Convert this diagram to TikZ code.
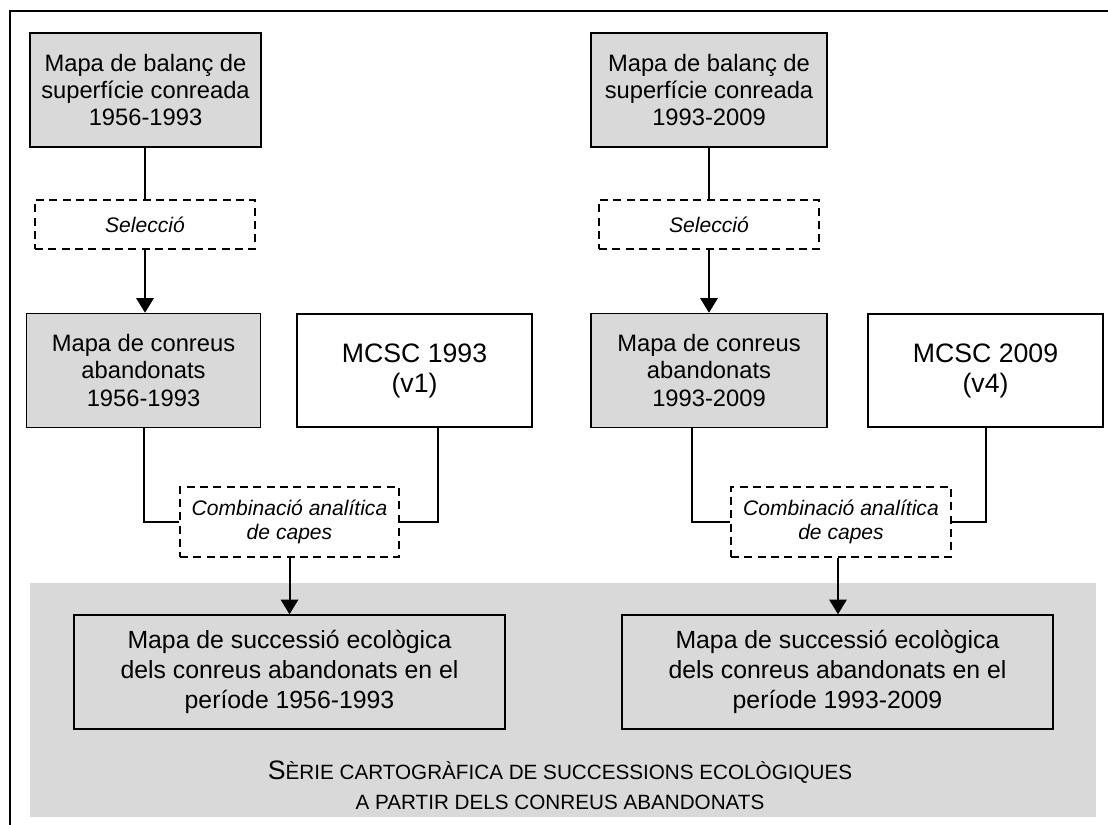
\documentclass[tikz,border=0pt]{standalone}
\usepackage{fontspec}
\setmainfont{Liberation Sans}
\usetikzlibrary{arrows.meta,calc}
\definecolor{boxgray}{RGB}{217,217,217}
\tikzset{
  box/.style={draw, line width=1.1pt, align=center, inner sep=0pt,
    font=\fontsize{17.8}{20.5}\selectfont},
  gbox/.style={box, fill=boxgray},
  bbox/.style={box, font=\fontsize{18.6}{22.5}\selectfont},
  mbox/.style={box, font=\fontsize{20}{22.5}\selectfont},
  dbox/.style={draw, dash pattern=on 6pt off 4pt, line width=1.1pt, align=center,
    inner sep=0pt, fill=white, font=\fontsize{15.8}{18.5}\selectfont\itshape},
  conn/.style={line width=1.5pt},
  arr/.style={conn, -{Triangle[width=13pt,length=11pt]}},
}
\begin{document}
\begin{tikzpicture}[x=0.75pt,y=-0.75pt]
\useasboundingbox (0,0) rectangle (1108,825);
% outer frame (left and top)
\draw[line width=1.5pt] (10,825) -- (10,11) -- (1108,11);
% gray band
\fill[boxgray] (30,583) rectangle (1096,817);

% left column
\node[gbox, minimum width=231*0.75pt, minimum height=114*0.75pt] (balL) at (145.5,90)
  {Mapa de balanç de\\superfície conreada\\1956-1993};
\node[dbox, minimum width=220*0.75pt, minimum height=49*0.75pt] (selL) at (145,224.5) {Selecció};
\node[gbox, minimum width=234*0.75pt, minimum height=114*0.75pt] (conL) at (143.5,370.5)
  {Mapa de conreus\\abandonats\\1956-1993};
\node[mbox, minimum width=235*0.75pt, minimum height=113*0.75pt] (mcL) at (414.5,370.5)
  {MCSC 1993\\(v1)};
\node[dbox, minimum width=219*0.75pt, minimum height=70*0.75pt] (comL) at (289.5,522)
  {Combinació analítica\\de capes};
\node[bbox, fill=boxgray, minimum width=431*0.75pt, minimum height=114*0.75pt] (sucL) at (289.5,672)
  {Mapa de successió ecològica\\dels conreus abandonats en el\\període 1956-1993};

% right column
\node[gbox, minimum width=236*0.75pt, minimum height=114*0.75pt] (balR) at (709,90)
  {Mapa de balanç de\\superfície conreada\\1993-2009};
\node[dbox, minimum width=220*0.75pt, minimum height=49*0.75pt] (selR) at (709,224.5) {Selecció};
\node[gbox, minimum width=236*0.75pt, minimum height=114*0.75pt] (conR) at (709,370.5)
  {Mapa de conreus\\abandonats\\1993-2009};
\node[mbox, minimum width=235*0.75pt, minimum height=113*0.75pt] (mcR) at (985.5,370.5)
  {MCSC 2009\\(v4)};
\node[dbox, minimum width=220*0.75pt, minimum height=70*0.75pt] (comR) at (841,522)
  {Combinació analítica\\de capes};
\node[bbox, fill=boxgray, minimum width=431*0.75pt, minimum height=114*0.75pt] (sucR) at (837.5,672)
  {Mapa de successió ecològica\\dels conreus abandonats en el\\període 1993-2009};

% band title
\node[align=center, inner sep=0pt, font=\fontsize{15.5}{22.5}\selectfont] (serie) at (560,785)
  {{\fontsize{20}{22.5}\selectfont S}ÈRIE CARTOGRÀFICA DE SUCCESSIONS ECOLÒGIQUES\\A PARTIR DELS CONREUS ABANDONATS};

% helper coordinates
\coordinate (mcLout) at ($(mcL.south)+(23.5,0)$);
\coordinate (conRout) at ($(conR.south)+(-17,0)$);
\coordinate (comRout) at ($(comR.south)+(-3,0)$);

% connectors left
\draw[conn] (balL.south -| selL.north) -- (selL.north);
\draw[arr] (selL.south) -- (selL.south |- conL.north);
\draw[conn] (conL.south) |- (comL.west);
\draw[conn] (mcLout) |- (comL.east);
\draw[arr] (comL.south) -- (comL.south |- sucL.north);

% connectors right
\draw[conn] (balR.south) -- (selR.north);
\draw[arr] (selR.south) -- (conR.north);
\draw[conn] (conRout) |- (comR.west);
\draw[conn] (mcR.south) |- (comR.east);
\draw[arr] (comRout) -- (comRout |- sucR.north);
\end{tikzpicture}
\end{document}
